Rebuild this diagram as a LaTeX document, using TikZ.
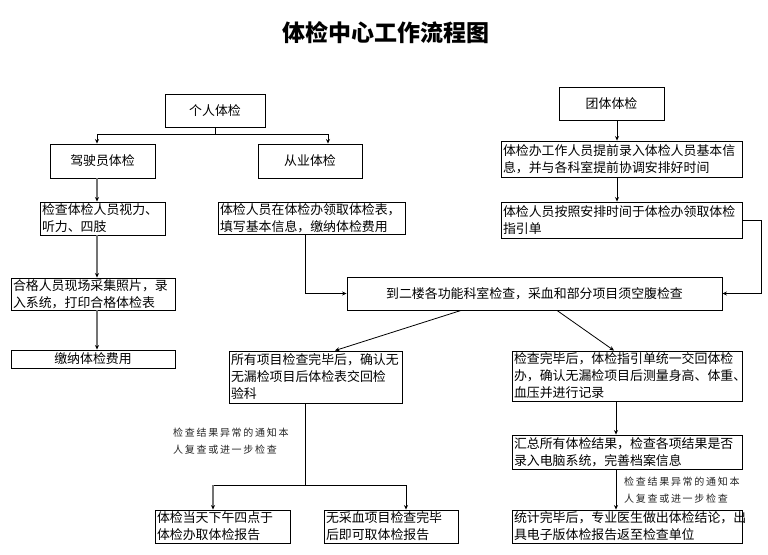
\documentclass[tikz,border=0pt]{standalone}
\usepackage{fontspec}
\newfontfamily\cjk{Noto Sans CJK SC}
\newfontfamily\cjkl{Noto Sans CJK SC}[LetterSpace=17]
\usetikzlibrary{arrows.meta}
\begin{document}
\begin{tikzpicture}[x=1pt,y=-1pt,
  box/.style={draw, line width=0.9pt, font=\cjk\fontsize{12.9pt}{17pt}\selectfont, inner xsep=2pt, inner ysep=0pt, align=left},
  cbox/.style={box, align=center},
  ln/.style={line width=0.8pt},
  arr/.style={ln, -{Stealth[length=4.5pt,width=4pt]}},
  garr/.style={draw=black!55, line width=1.5pt, -{Stealth[length=4.5pt,width=4pt,color=black]}},
  note/.style={font=\cjkl\fontsize{10pt}{17pt}\selectfont, text=black!85, align=left, inner sep=0pt, anchor=north west}]
\useasboundingbox (0,0) rectangle (768,554);
\fill[white] (0,0) rectangle (768,554);
% title
\node[font=\cjk\bfseries\fontsize{23pt}{25pt}\selectfont] (title) at (386,33) {体检中心工作流程图};
% left column
\node[cbox, minimum width=100pt, minimum height=33pt, text width=96pt] (geren) at (215,110.5) {个人体检};
\node[cbox, minimum width=105pt, minimum height=34pt, text width=101pt] (jia) at (102.5,161) {驾驶员体检};
\node[cbox, minimum width=104pt, minimum height=34pt, text width=100pt] (cong) at (310,161) {从业体检};
\node[box, minimum width=125pt, minimum height=33pt, text width=121pt] (jc) at (102.5,218.5) {检查体检人员视力、\\听力、四肢};
\node[box, minimum width=187pt, minimum height=32pt, text width=183pt] (tjb) at (311.5,218) {体检人员在体检办领取体检表，\\填写基本信息，缴纳体检费用};
\node[box, minimum width=164pt, minimum height=32pt, text width=160pt] (hege) at (93,294) {合格人员现场采集照片，录\\入系统，打印合格体检表};
\node[cbox, minimum width=164pt, minimum height=18pt, text width=160pt] (jn) at (93,359) {缴纳体检费用};
% right column
\node[cbox, minimum width=105pt, minimum height=33pt, text width=101pt] (tuanti) at (611.5,103.5) {团体体检};
\node[box, minimum width=241pt, minimum height=36pt, text width=237pt] (bg) at (621.5,159) {体检办工作人员提前录入体检人员基本信\\息，并与各科室提前协调安排好时间};
\node[box, minimum width=241pt, minimum height=36pt, text width=237pt] (az) at (621.5,220) {体检人员按照安排时间于体检办领取体检\\指引单};
% middle
\node[cbox, minimum width=375pt, minimum height=33pt, text width=371pt] (erlou) at (534.5,293.5) {到二楼各功能科室检查，采血和部分项目须空腹检查};
\node[box, minimum width=173pt, minimum height=52pt, text width=169pt] (suoyou) at (315.5,377) {所有项目检查完毕后，确认无\\无漏检项目后体检表交回检\\验科};
\node[box, minimum width=230pt, minimum height=50pt, text width=226pt] (jcwb) at (627,376) {检查完毕后，体检指引单统一交回体检\\办，确认无漏检项目后测量身高、体重、\\血压并进行记录};
\node[box, minimum width=230pt, minimum height=34pt, text width=226pt] (hz) at (627,452) {汇总所有体检结果，检查各项结果是否\\录入电脑系统，完善档案信息};
\node[box, minimum width=135pt, minimum height=33pt, text width=131pt] (dt) at (222.5,526.5) {体检当天下午四点于\\体检办取体检报告};
\node[box, minimum width=134pt, minimum height=33pt, text width=130pt] (wcx) at (391,526.5) {无采血项目检查完毕\\后即可取体检报告};
\node[box, minimum width=230pt, minimum height=33pt, text width=226pt] (tj) at (627,526.5) {统计完毕后，专业医生做出体检结论，出\\具电子版体检报告返至检查单位};
% notes
\node[note] (n1) at (173,428) {检查结果异常的通知本\\人复查或进一步检查};
\node[note] (n2) at (624,477) {检查结果异常的通知本\\人复查或进一步检查};
% connector helper coordinates
\coordinate (b1) at (97,134);
\coordinate (b2) at (328,134);
\coordinate (xr) at (617,0);
\coordinate (xm) at (616,0);
\coordinate (s1) at (213,485);
\coordinate (s2) at (406,485);
% connectors
\draw[ln] (geren.south) -- (geren.south |- b1);
\draw[ln] (b1) -- (b2);
\draw[arr] (b1) -- (b1 |- jia.north);
\draw[arr] (b2) -- (b2 |- cong.north);
\draw[garr] (jia.south -| b1) -- (jc.north -| b1);
\draw[garr] (jc.south -| b1) -- (hege.north -| b1);
\draw[garr] (hege.south -| b1) -- (jn.north -| b1);
\draw[arr] ([xshift=-6.5pt]tjb.south) |- (erlou.west);
\draw[arr] (tuanti.south -| xr) -- (bg.north -| xr);
\draw[arr] (bg.south -| xr) -- (az.north -| xr);
\draw[arr] (az.east) -- ++(19,0) |- (erlou.east);
\draw[arr] ([xshift=-73.5pt]erlou.south) -- ([xshift=19.5pt]suoyou.north);
\draw[arr] ([xshift=22.5pt]erlou.south) -- ([xshift=-13pt]jcwb.north);
\draw[ln] ([xshift=-10.5pt]suoyou.south) -- ([xshift=-10.5pt]suoyou.south |- s1);
\draw[ln] (s1) -- (s2);
\draw[garr] (s1) -- (s1 |- dt.north);
\draw[arr] (s2) -- (s2 |- wcx.north);
\draw[arr] (jcwb.south -| xm) -- (hz.north -| xm);
\draw[arr] (hz.south -| xm) -- (tj.north -| xm);
\end{tikzpicture}
\end{document}
